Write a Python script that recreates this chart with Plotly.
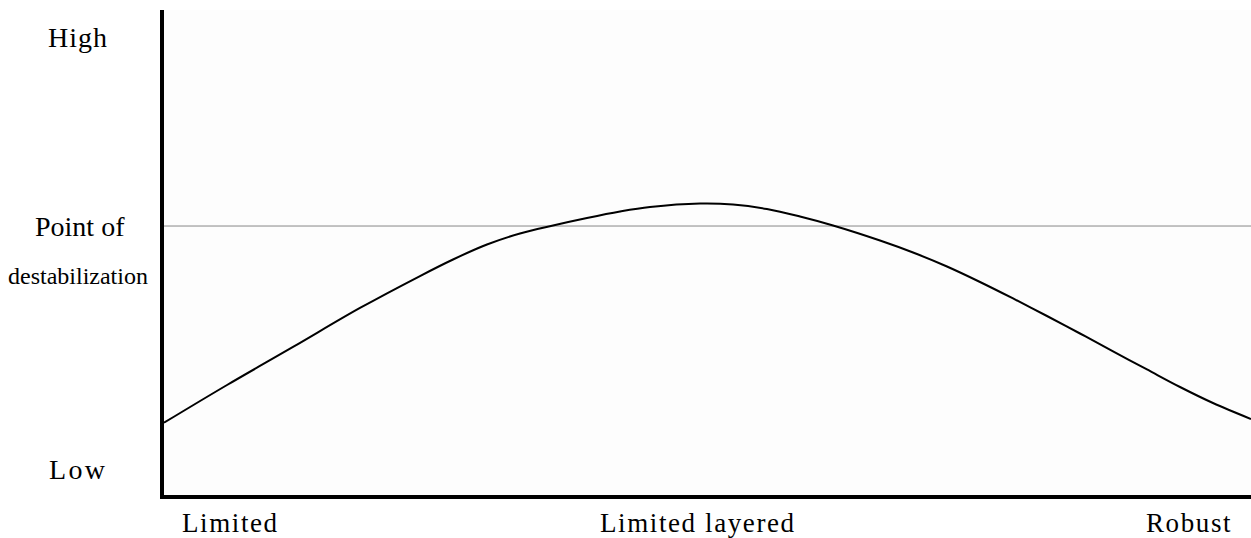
import plotly.graph_objects as go

# Curve: values (x: 0-100 across defense types, y: 0-100 Low→High)
curve_x = [0, 5.80, 11.87, 18.03, 23.55, 26.59, 29.71, 32.75, 35.79, 38.91, 41.95,
           44.71, 49.31, 52.35, 55.47, 58.51, 61.55, 65.87, 68.91, 72.03, 75.07,
           78.11, 81.23, 84.27, 87.31, 90.43, 93.47, 96.50, 100]
curve_y = [14.9, 22.68, 30.52, 38.56, 45.15, 48.56, 51.65, 53.92, 55.57, 57.11, 58.45,
           59.38, 60.10, 59.90, 58.97, 57.42, 55.57, 52.47, 50.00, 47.11, 43.92,
           40.52, 36.91, 33.30, 29.59, 25.88, 22.27, 18.97, 15.67]

threshold = 55.46  # point of destabilization

x_labels = ["Limited", "Limited layered", "Robust"]
x_label_pos = [6.1, 49.1, 94.3]

y_labels = ["High", "Low"]
y_label_pos = [94.4, 5.2]

FONT = "Liberation Serif, Times New Roman, serif"

fig = go.Figure()
fig.add_trace(go.Scatter(
    x=[0, 100], y=[threshold, threshold], mode="lines",
    line=dict(color="#888888", width=1),
    hoverinfo="skip", showlegend=False,
))
fig.add_trace(go.Scatter(
    x=curve_x, y=curve_y, mode="lines",
    line=dict(color="black", width=2, shape="spline", smoothing=1.0),
    hoverinfo="skip", showlegend=False,
))

annotations = []
for lab, pos in zip(x_labels, x_label_pos):
    annotations.append(dict(
        x=pos, y=-0.058, xref="x", yref="paper", xanchor="center", yanchor="middle",
        text=f'<span style="letter-spacing:1.6px">{lab}</span>', showarrow=False,
        font=dict(family=FONT, size=27, color="black"), borderpad=0,
    ))
spacing = {"High": 1, "Low": 2.3}
for lab, pos in zip(y_labels, y_label_pos):
    annotations.append(dict(
        x=-0.079, y=pos, xref="paper", yref="y", xanchor="center", yanchor="middle",
        text=f'<span style="letter-spacing:{spacing[lab]}px">{lab}</span>', showarrow=False,
        font=dict(family=FONT, size=28, color="black"),
    ))
annotations.append(dict(
    x=-0.077, y=threshold, xref="paper", yref="y", xanchor="center", yanchor="middle",
    text="Point of", showarrow=False,
    font=dict(family=FONT, size=28, color="black"),
))
annotations.append(dict(
    x=-0.0795, y=threshold - 10.3, xref="paper", yref="y", xanchor="center", yanchor="middle",
    text="destabilization", showarrow=False,
    font=dict(family=FONT, size=24, color="black"),
))

fig.update_layout(
    width=1251, height=538,
    margin=dict(l=164, r=0, t=10, b=43),
    paper_bgcolor="white", plot_bgcolor="#fdfdfd",
    annotations=annotations,
    xaxis=dict(range=[0, 100], showgrid=False, zeroline=False, showticklabels=False,
               ticks="", showline=True, linecolor="black", linewidth=4, fixedrange=True),
    yaxis=dict(range=[0, 100], showgrid=False, zeroline=False, showticklabels=False,
               ticks="", showline=True, linecolor="black", linewidth=4, fixedrange=True),
)

# remove the default page margin so the figure fills the window exactly
fig.write_html(
    "out.html",
    config={"displayModeBar": False, "staticPlot": True},
    post_script="document.body.style.margin='0';document.documentElement.style.overflow='hidden';",
)
